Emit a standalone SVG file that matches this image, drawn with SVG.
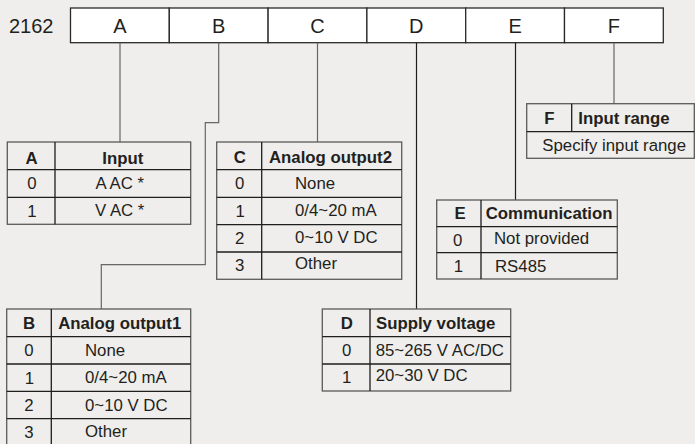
<svg xmlns="http://www.w3.org/2000/svg" width="695" height="444" viewBox="0 0 695 444">
<style>
text{font-family:"Liberation Sans",Arial,sans-serif;fill:#231f20;font-size:16.8px}
.b{font-weight:bold}
.m{text-anchor:middle}
.big{font-size:20px}
.cell{fill:#fff;stroke:#2a2a2a;stroke-width:1.3}
.tb{fill:none;stroke:#5a5a5a;stroke-width:1.3}
.rl{stroke:#1e1e1e;stroke-width:1.3;fill:none}
.cn{fill:none;stroke:#666;stroke-width:1.2}
.cd{fill:none;stroke:#1e1e1e;stroke-width:1.2}
</style>
<rect width="695" height="444" fill="#efeeec"/>
<g id="code-bar">
<text class="big" x="9" y="33">2162</text>
<rect class="cell" x="70.5" y="8" width="98.8" height="34.7"/>
<rect class="cell" x="169.3" y="8" width="98.8" height="34.7"/>
<rect class="cell" x="268.1" y="8" width="98.8" height="34.7"/>
<rect class="cell" x="366.9" y="8" width="98.8" height="34.7"/>
<rect class="cell" x="465.7" y="8" width="98.8" height="34.7"/>
<rect class="cell" x="564.5" y="8" width="98.8" height="34.7"/>
<text class="big m" x="120" y="33">A</text>
<text class="big m" x="218.7" y="33">B</text>
<text class="big m" x="317.5" y="33">C</text>
<text class="big m" x="416.3" y="33">D</text>
<text class="big m" x="515.1" y="33">E</text>
<text class="big m" x="613.9" y="33">F</text>
</g>
<g id="connectors">
<path class="cn" d="M120 42.7V142"/>
<path class="cn" d="M218.7 42.7V122.7H205.3V264.6H101.3V309"/>
<path class="cn" d="M317.5 42.7V142"/>
<path class="cd" d="M416.5 42.7V309"/>
<path class="cd" d="M515.5 42.7V200"/>
<path class="cn" d="M614 42.7V103.7"/>
</g>
<g id="table-A">
<rect class="tb" x="7.3" y="142" width="183.4" height="82.3"/>
<path class="rl" d="M7.3 169.7H190.7M7.3 197.3H190.7M55 142V224.3"/>
<text class="b m" x="31.5" y="164">A</text>
<text class="b m" x="122.8" y="164">Input</text>
<text class="m" x="32" y="189.3">0</text>
<text class="m" x="119.7" y="189">A AC *</text>
<text class="m" x="32" y="217">1</text>
<text class="m" x="119.7" y="215.5">V AC *</text>
</g>
<g id="table-B">
<rect class="tb" x="6.7" y="309" width="184" height="140"/>
<path class="rl" d="M6.7 336.7H190.7M6.7 364H190.7M6.7 391.3H190.7M6.7 418.7H190.7M51.3 309V449"/>
<text class="b m" x="29" y="329.3">B</text>
<text class="b m" x="119.7" y="329.3">Analog output1</text>
<text class="m" x="29" y="356">0</text>
<text x="85" y="356">None</text>
<text class="m" x="29.5" y="384">1</text>
<text x="85" y="382.7">0/4~20 mA</text>
<text class="m" x="29" y="410.7">2</text>
<text x="85" y="410.7">0~10 V DC</text>
<text class="m" x="29" y="437.5">3</text>
<text x="85" y="437.3">Other</text>
</g>
<g id="table-C">
<rect class="tb" x="216.7" y="142" width="185" height="137.3"/>
<path class="rl" d="M216.7 169.7H401.7M216.7 197.3H401.7M216.7 224.7H401.7M216.7 252H401.7M261.7 142V279.3"/>
<text class="b m" x="239.7" y="162.7">C</text>
<text class="b m" x="330.5" y="162.7">Analog output2</text>
<text class="m" x="239.7" y="189.3">0</text>
<text x="295" y="189.3">None</text>
<text class="m" x="240.2" y="217.3">1</text>
<text x="295" y="216">0/4~20 mA</text>
<text class="m" x="239.7" y="243.5">2</text>
<text x="295" y="243.3">0~10 V DC</text>
<text class="m" x="239.7" y="270.7">3</text>
<text x="295" y="269.3">Other</text>
</g>
<g id="table-D">
<rect class="tb" x="322.3" y="309" width="188.4" height="82"/>
<path class="rl" d="M322.3 336.7H510.7M322.3 364H510.7M370 309V391"/>
<text class="b m" x="346.7" y="329.3">D</text>
<text class="b" x="376" y="329.3">Supply voltage</text>
<text class="m" x="346.7" y="356">0</text>
<text x="375.7" y="356">85~265 V AC/DC</text>
<text class="m" x="346.7" y="383.3">1</text>
<text x="375.7" y="380.7">20~30 V DC</text>
</g>
<g id="table-E">
<rect class="tb" x="436.7" y="200" width="180.6" height="79"/>
<path class="rl" d="M436.7 226.7H617.3M436.7 252.7H617.3M481 200V279"/>
<text class="b m" x="460" y="219">E</text>
<text class="b" x="485.7" y="219">Communication</text>
<text class="m" x="457.7" y="245.7">0</text>
<text x="494" y="244">Not provided</text>
<text class="m" x="458.3" y="271.7">1</text>
<text x="495" y="271.7">RS485</text>
</g>
<g id="table-F">
<rect class="tb" x="526.7" y="103.7" width="167.6" height="54.6"/>
<path class="rl" d="M526.7 131.7H694.3M571.7 103.7V131.7"/>
<text class="b m" x="549.3" y="124">F</text>
<text class="b" x="578.3" y="124">Input range</text>
<text x="542.3" y="151">Specify input range</text>
</g>
</svg>
